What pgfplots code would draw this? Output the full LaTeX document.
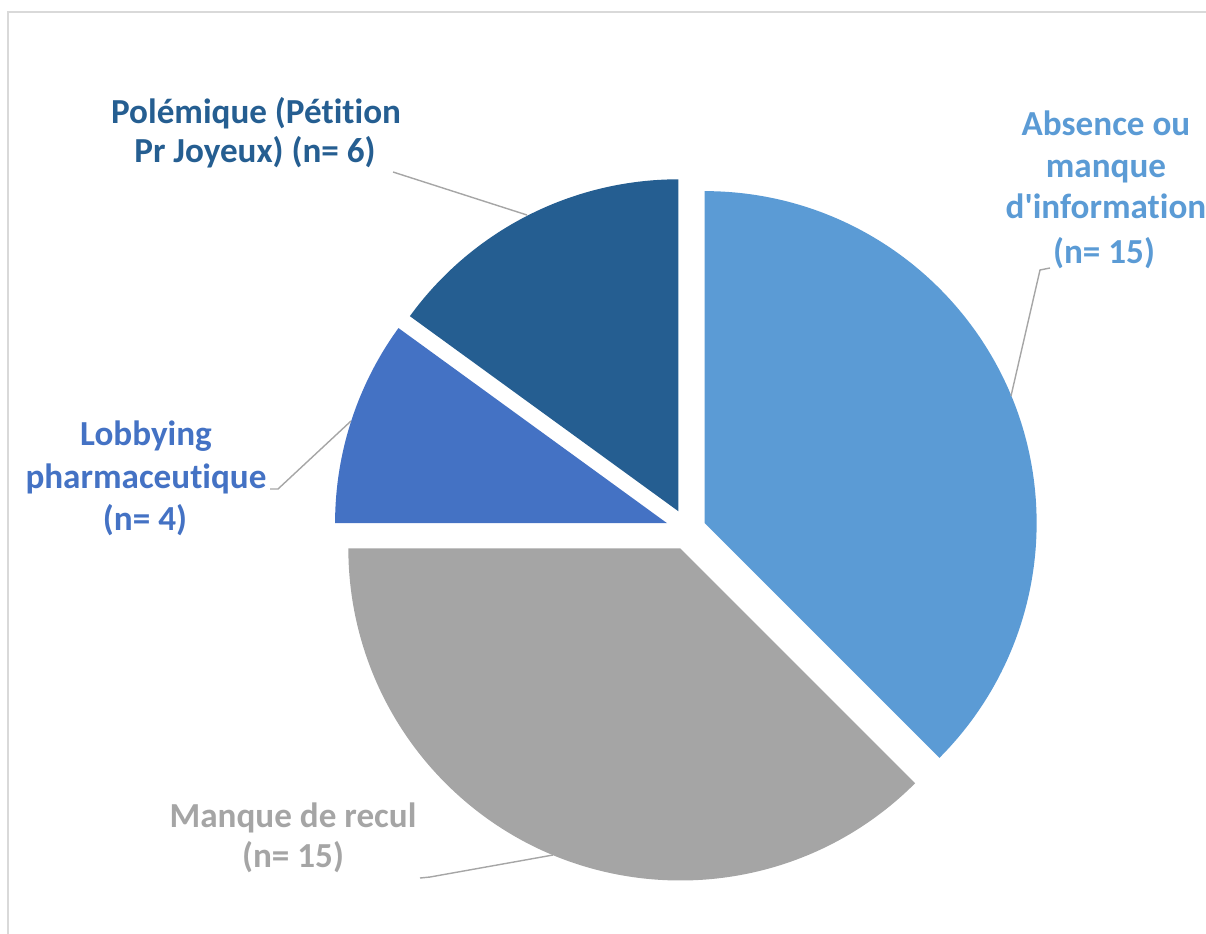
\documentclass[border=0pt]{standalone}
\usepackage{fontspec}
\setmainfont{Carlito}
\font\lblfont="Carlito Bold:-liga;-clig;-calt;-dlig" at 10pt
\usepackage{pgfplots}
\pgfplotsset{compat=1.18}

\definecolor{cabs}{HTML}{5B9BD5}
\definecolor{cman}{HTML}{A5A5A5}
\definecolor{clob}{HTML}{4472C4}
\definecolor{cpol}{HTML}{255E91}
\definecolor{leader}{HTML}{A6A6A6}
\definecolor{cborder}{HTML}{D9D9D9}

\def\pietotal{40}
% value, values before it, explosion, colour
\newcommand\pieslice[4]{%
  \pgfmathsetmacro\sa{90-#2*360/\pietotal}%
  \pgfmathsetmacro\da{-#1*360/\pietotal}%
  \pgfmathsetmacro\ma{\sa+\da/2}%
  \edef\temp{\noexpand\fill[#4] ([shift={(\ma:#3)}]axis cs:688,403) -- ++(\sa:3.32cm)
    arc[start angle=\sa, delta angle=\da, radius=3.32cm] -- cycle;}%
  \temp}

\begin{document}
\begin{tikzpicture}[every node/.style={inner sep=0pt, anchor=base, font=\lblfont}]
\begin{axis}[name=ax,
    width=12.06cm, height=9.33cm, scale only axis,
    xmin=0, xmax=1206, ymin=0, ymax=933,
    hide axis, clip=false]
% chart frame
\addplot[color=cborder, line width=0.6pt] coordinates {(8,-20) (8,921) (1240,921)};

\pieslice{15}{0}{0.18cm}{cabs}
\pieslice{15}{15}{0.20cm}{cman}
\pieslice{4}{30}{0.22cm}{clob}
\pieslice{6}{34}{0.21cm}{cpol}

% leader lines
\addplot[color=leader, line width=0.4pt] coordinates {(393,761) (527,718)};
\addplot[color=leader, line width=0.4pt] coordinates {(1050,665) (1040,663) (1011,537)};
\addplot[color=leader, line width=0.4pt] coordinates {(270,444) (278,444) (351,512)};
\addplot[color=leader, line width=0.4pt] coordinates {(420,55) (430,56) (553,78)};

\node[text=cpol] at (axis cs:256,810) {Polémique (Pétition};
\node[text=cpol] at (axis cs:255,771) {Pr Joyeux) (n= 6)};

\node[text=cabs] at (axis cs:1106,798) {Absence ou};
\node[text=cabs] at (axis cs:1106,756) {manque};
\node[text=cabs] at (axis cs:1106,715) {d'information};
\node[text=cabs] at (axis cs:1104,670) {(n= 15)};

\node[text=clob] at (axis cs:146,488) {Lobbying};
\node[text=clob] at (axis cs:146,445) {pharmaceutique};
\node[text=clob] at (axis cs:145,403) {(n= 4)};

\node[text=cman] at (axis cs:293,106) {Manque de recul};
\node[text=cman] at (axis cs:293,66) {(n= 15)};
\end{axis}
\pgfresetboundingbox
\path[use as bounding box] (ax.south west) rectangle (ax.north east);
\end{tikzpicture}
\end{document}
